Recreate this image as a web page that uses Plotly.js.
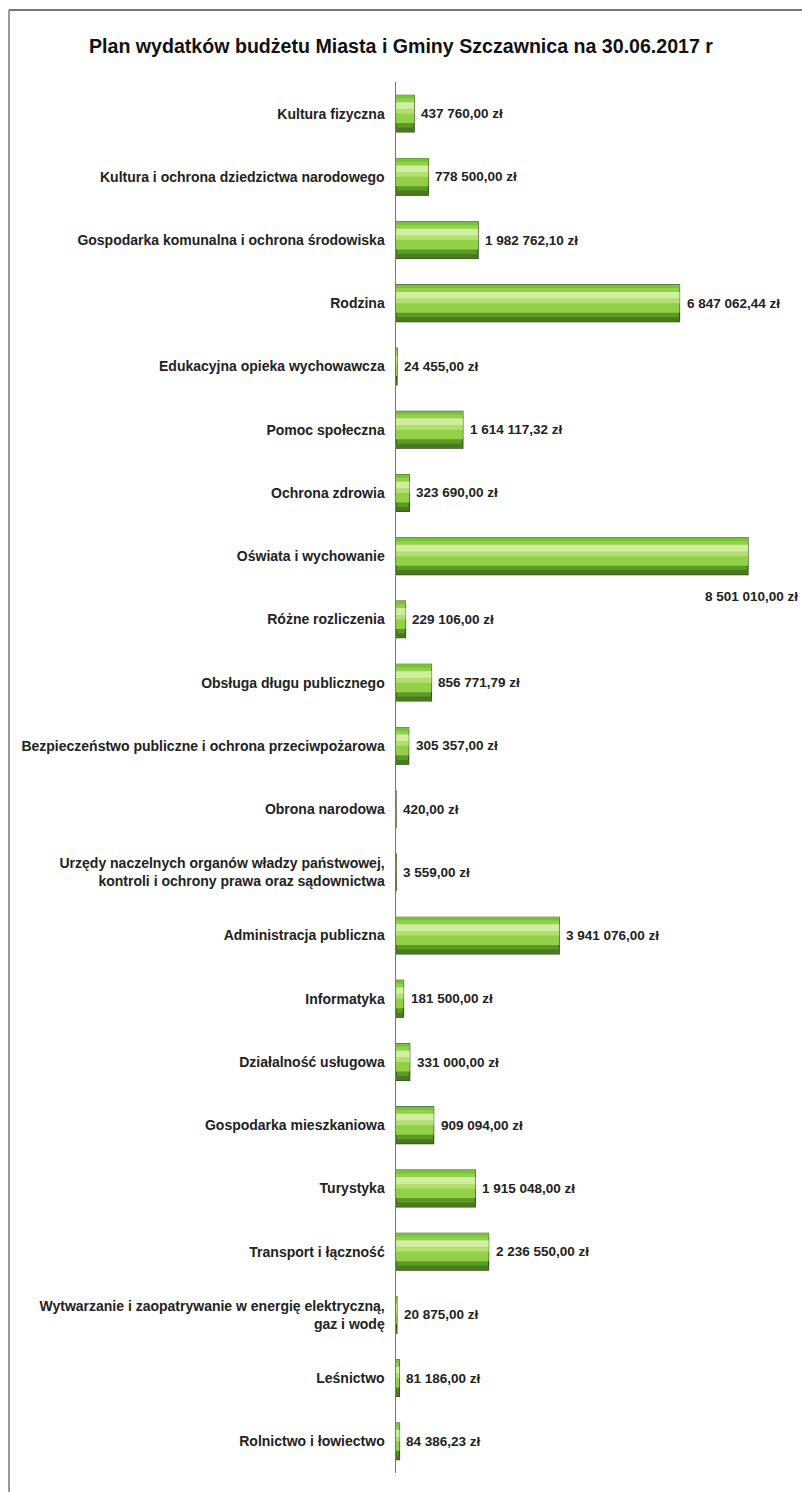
<!DOCTYPE html>
<html>
<head>
<meta charset="utf-8">
<script src="https://cdn.plot.ly/plotly-3.0.1.min.js"></script>
<style>
  html, body { margin: 0; padding: 0; background: #fff; }
  #chart { width: 802px; height: 1492px; }
</style>
</head>
<body>
<div id="chart"></div>
<script>
const categories = [
  "Kultura fizyczna",
  "Kultura i ochrona dziedzictwa narodowego",
  "Gospodarka komunalna i ochrona środowiska",
  "Rodzina",
  "Edukacyjna opieka wychowawcza",
  "Pomoc społeczna",
  "Ochrona zdrowia",
  "Oświata i wychowanie",
  "Różne rozliczenia",
  "Obsługa długu publicznego",
  "Bezpieczeństwo publiczne i ochrona przeciwpożarowa",
  "Obrona narodowa",
  "Urzędy naczelnych organów władzy państwowej,<br>kontroli i ochrony prawa oraz sądownictwa",
  "Administracja publiczna",
  "Informatyka",
  "Działalność usługowa",
  "Gospodarka mieszkaniowa",
  "Turystyka",
  "Transport i łączność",
  "Wytwarzanie i zaopatrywanie w energię elektryczną,<br>gaz i wodę",
  "Leśnictwo",
  "Rolnictwo i łowiectwo"
];
const values = [
  437760.00, 778500.00, 1982762.10, 6847062.44, 24455.00, 1614117.32,
  323690.00, 8501010.00, 229106.00, 856771.79, 305357.00, 420.00,
  3559.00, 3941076.00, 181500.00, 331000.00, 909094.00, 1915048.00,
  2236550.00, 20875.00, 81186.00, 84386.23
];
const titleText = "Plan wydatków budżetu Miasta i Gminy Szczawnica na 30.06.2017 r";

function fmt(v) {
  const parts = v.toFixed(2).split(".");
  const intPart = parts[0].replace(/\B(?=(\d{3})+(?!\d))/g, " ");
  return intPart + "," + parts[1] + " zł";
}

const FONT = "'Liberation Sans Narrow', 'Arial Narrow', 'Liberation Sans', sans-serif";
const maxV = Math.max(...values);

const base = {
  type: "bar", orientation: "h", x: values, y: categories,
  hoverinfo: "skip", showlegend: false
};
// layered strips to imitate the bevelled green bars
const layers = [
  {w: 0.58, o: -0.29, c: "#5c9a26", line: {color: "#2a4d10", width: 1.2}},
  {w: 0.44, o: -0.29, c: "#92d048"},
  {w: 0.05, o: -0.29, c: "#76c23a"},
  {w: 0.11, o: -0.18, c: "#d0eea0"},
  {w: 0.07, o: -0.07, c: "#b2e070"},
  {w: 0.07, o: 0.22, c: "#4a7a1c"}
];
const traces = layers.map(l => Object.assign({}, base, {
  width: l.w, offset: l.o,
  marker: {color: l.c, line: l.line || {width: 0}}
}));

const labelFont = {family: FONT, size: 13.5, color: "#222", weight: "bold"};
const annotations = values.map((v, i) => {
  if (v > 0.9 * maxV) {
    return {x: 1, xref: "paper", y: categories[i], yref: "y", text: fmt(v),
      showarrow: false, xanchor: "right", yanchor: "middle", yshift: -40,
      font: labelFont};
  }
  return {x: v, y: categories[i], xref: "x", yref: "y", text: fmt(v),
    showarrow: false, xanchor: "left", yanchor: "middle", xshift: 5,
    font: labelFont};
});

const layout = {
  width: 802, height: 1492,
  margin: {l: 396, r: 2, t: 82, b: 19},
  paper_bgcolor: "#ffffff", plot_bgcolor: "#ffffff",
  barmode: "overlay",
  title: {text: titleText, x: 0.5, xref: "container",
    y: 1 - 46 / 1492, yref: "container", yanchor: "middle", xanchor: "center",
    font: {family: FONT, size: 19.6, color: "#111", weight: "bold"}},
  xaxis: {range: [0, maxV * 404 / 352], visible: false, fixedrange: true},
  yaxis: {type: "category", autorange: "reversed", showline: true,
    linecolor: "#777", linewidth: 1.5, ticks: "", showgrid: false,
    zeroline: false, ticklabelstandoff: 7,
    tickfont: {family: FONT, size: 14, color: "#222", weight: "bold"}},
  annotations: annotations,
  shapes: [
    {type: "line", xref: "paper", yref: "paper",
      x0: (9 - 396) / 404, x1: (802 - 396) / 404,
      y0: (1473 - 10) / 1391, y1: (1473 - 10) / 1391,
      line: {color: "#777", width: 2}},
    {type: "line", xref: "paper", yref: "paper",
      x0: (9 - 396) / 404, x1: (9 - 396) / 404,
      y0: (1473 - 1492) / 1391, y1: (1473 - 10) / 1391,
      line: {color: "#999", width: 2}}
  ]
};

Plotly.newPlot("chart", traces, layout, {displayModeBar: false, staticPlot: true});
</script>
</body>
</html>
